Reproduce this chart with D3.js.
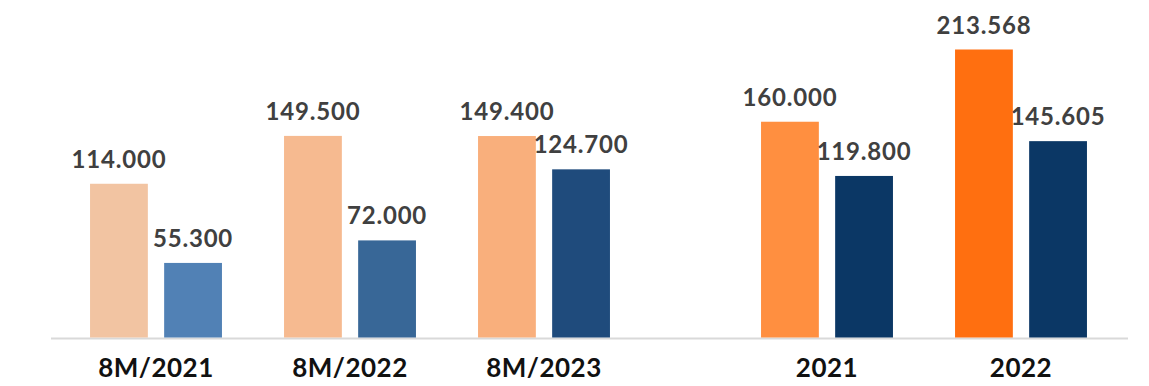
<!DOCTYPE html>
<html>
<head>
<meta charset="utf-8">
<script src="https://cdn.jsdelivr.net/npm/d3@7"></script>
<style>
  body { margin: 0; background: #fff; }
  svg { display: block; font-family: Lato, 'Open Sans', sans-serif; }
</style>
</head>
<body>
<div id="chart"></div>
<script>
// data (thousands)
const leftCats = ['8M/2021', '8M/2022', '8M/2023']
const rightCats = ['2021', '2022']
const seriesA = [114.000, 149.500, 149.400, 160.000, 213.568]
const seriesB = [55.300, 72.000, 124.700, 119.800, 145.605]
const labelsA = ['114.000', '149.500', '149.400', '160.000', '213.568']
const labelsB = ['55.300', '72.000', '124.700', '119.800', '145.605']
const colorsA = ['#F2C4A2', '#F6BA90', '#F9AF7C', '#FF8F40', '#FF6F10']
const colorsB = ['#5181B5', '#386797', '#1F4B7C', '#0B3765', '#0B3765']

const width = 1149
const height = 386
const baseY = 337.5

const cats = leftCats.concat(rightCats)
const rows = cats.map((c, i) => ({
  cat: c,
  panel: i < leftCats.length ? 'left' : 'right',
  values: [
    {key: 'a', v: seriesA[i], label: labelsA[i], color: colorsA[i]},
    {key: 'b', v: seriesB[i], label: labelsB[i], color: colorsB[i]}
  ]
}))

const svg = d3.select('#chart')
  .append('svg')
  .attr('width', width)
  .attr('height', height)

// scales
const ys = d3.scaleLinear()
  .domain([0, 213.568])
  .range([baseY, baseY - 288])

const xLeft = d3.scaleBand()
  .domain(leftCats)
  .range([59, 641])
  .paddingInner(0.32)
  .paddingOuter(0.16)
const xRight = d3.scaleBand()
  .domain(rightCats)
  .range([730, 1118])
  .paddingInner(0.32)
  .paddingOuter(0.16)
const x0 = (d) => d.panel === 'left' ? xLeft(d.cat) : xRight(d.cat)

const x1 = d3.scaleBand()
  .domain(['a', 'b'])
  .range([0, xLeft.bandwidth()])
  .paddingInner(0.22)

// baseline
svg.append('line')
  .attr('x1', 51)
  .attr('x2', 1128)
  .attr('y1', ys(0) + 1)
  .attr('y2', ys(0) + 1)
  .attr('stroke', '#d9d9d9')
  .attr('stroke-width', 2)

const groups = svg.selectAll('.grp')
  .data(rows)
  .enter()
  .append('g')
  .attr('class', 'grp')
  .attr('transform', (d) => `translate(${x0(d)},0)`)

groups.selectAll('rect')
  .data((d) => d.values)
  .enter()
  .append('rect')
  .attr('x', (d) => x1(d.key))
  .attr('y', (d) => ys(d.v))
  .attr('width', x1.bandwidth())
  .attr('height', (d) => ys(0) - ys(d.v))
  .attr('fill', (d) => d.color)

// value labels
groups.selectAll('.val')
  .data((d) => d.values)
  .enter()
  .append('text')
  .attr('class', 'val')
  .attr('x', (d) => x1(d.key) + x1.bandwidth() / 2)
  .attr('y', (d) => ys(d.v) - 16)
  .attr('text-anchor', 'middle')
  .style('font-size', '24px')
  .style('font-weight', 700)
  .style('letter-spacing', '0.8px')
  .attr('fill', '#404040')
  .text((d) => d.label)

// category labels
groups.append('text')
  .attr('x', xLeft.bandwidth() / 2)
  .attr('y', 377)
  .attr('text-anchor', 'middle')
  .style('font-size', '26px')
  .style('font-weight', 700)
  .style('letter-spacing', '0.5px')
  .attr('fill', '#111')
  .text((d) => d.cat)
</script>
</body>
</html>
